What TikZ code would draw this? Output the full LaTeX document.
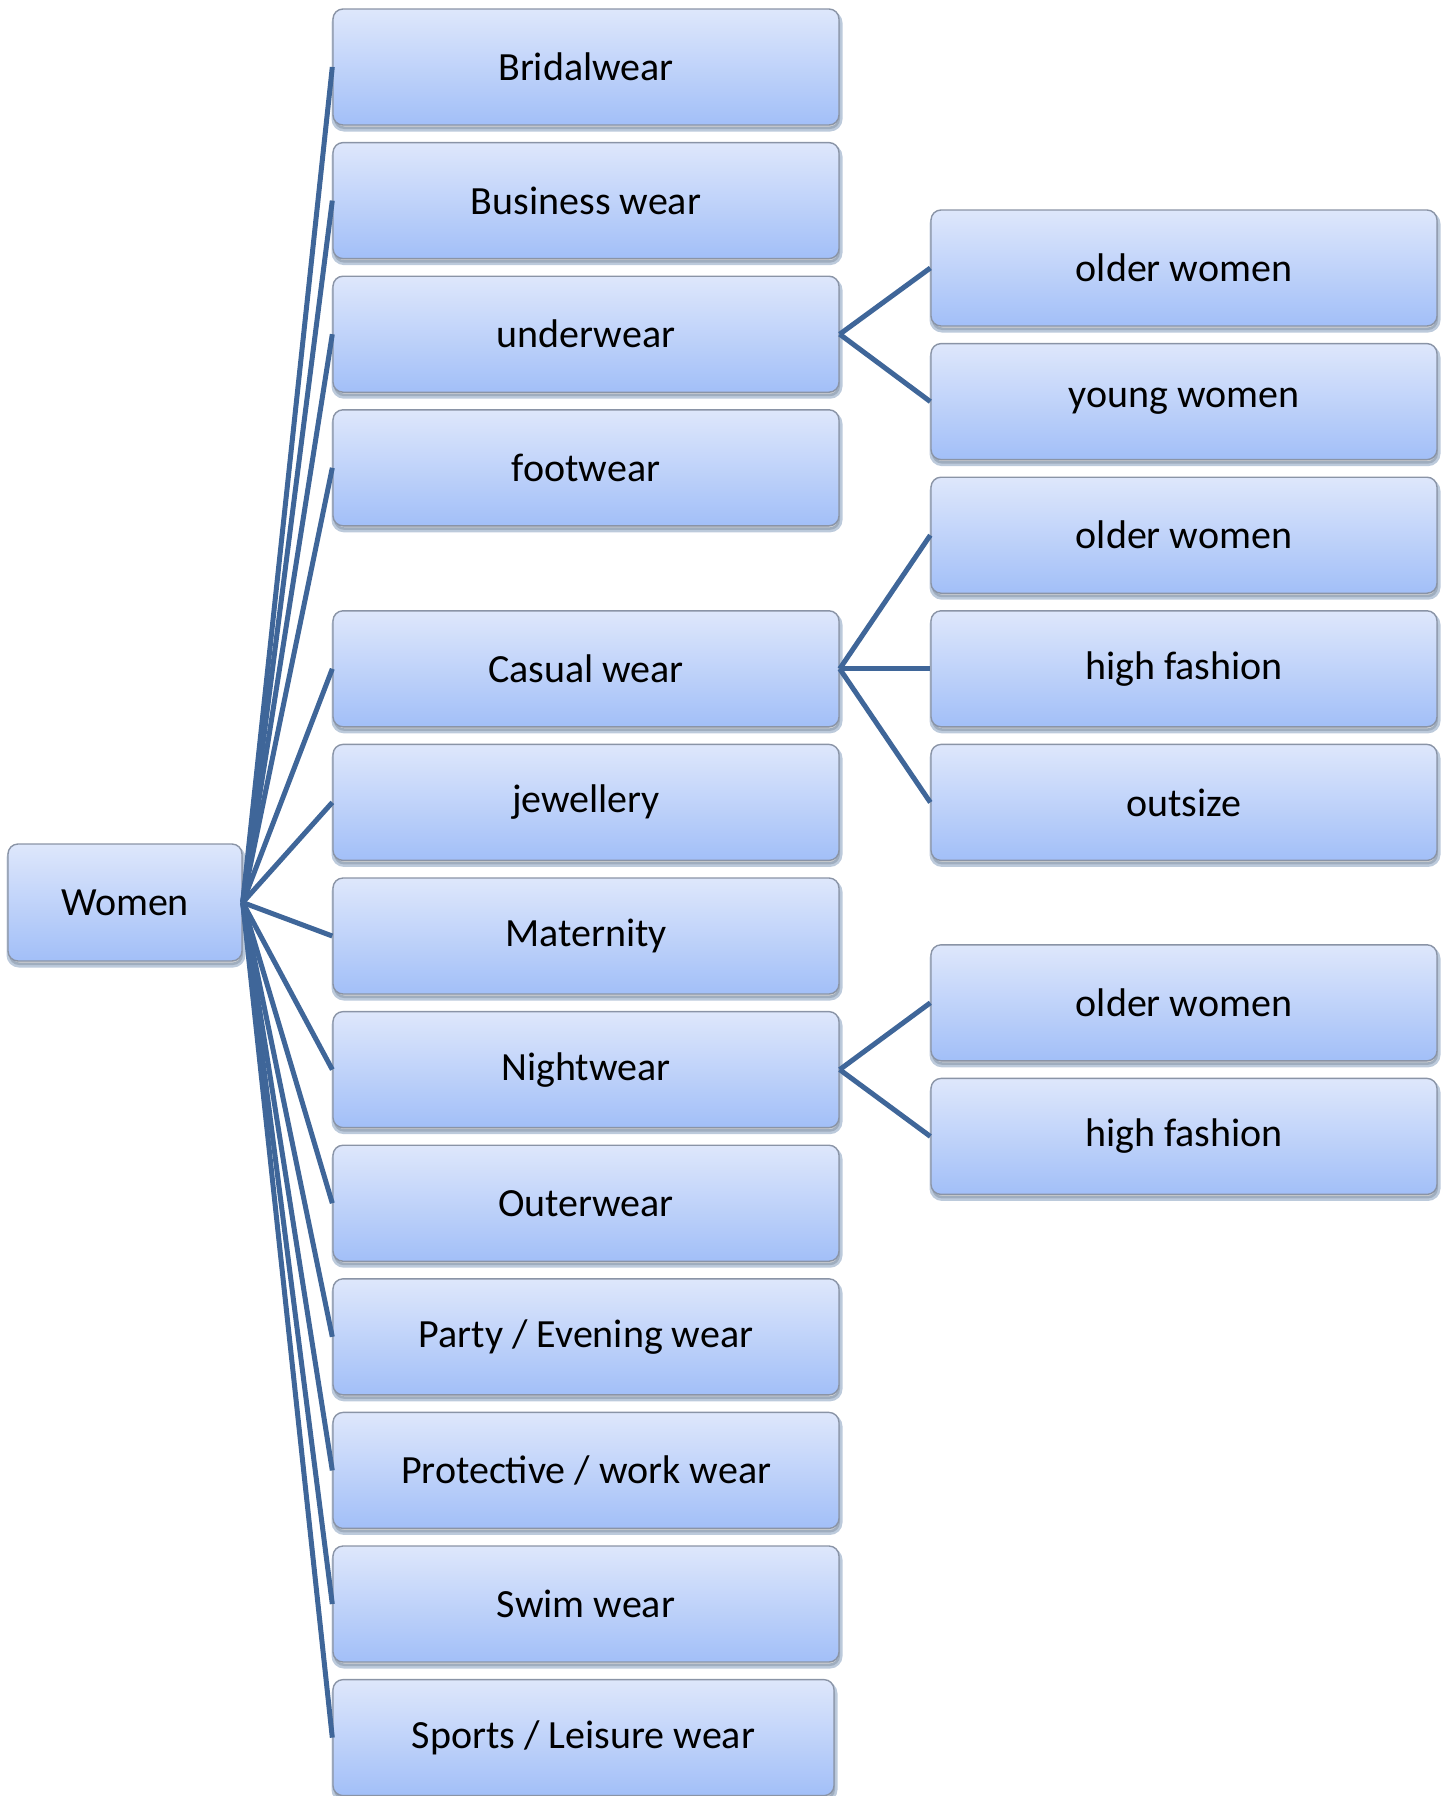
\documentclass[tikz,border=0pt]{standalone}
\usepackage{fontspec}
\setmainfont{Carlito}
\usetikzlibrary{shadows}
\definecolor{boxtop}{HTML}{DEE7FB}
\definecolor{boxbot}{HTML}{A2BFF8}
\definecolor{boxline}{HTML}{8A94A6}
\definecolor{linkblue}{HTML}{3F6699}
\begin{document}
\begin{tikzpicture}[x=1pt,y=-1pt]
    \tikzstyle{every node}=[draw=boxline,line width=1.4pt,rounded corners=10pt,top color=boxtop,bottom color=boxbot,
      drop shadow={shadow xshift=1pt,shadow yshift=-4pt,opacity=0.35},
      minimum width=506pt,minimum height=116pt,inner sep=0pt,font=\fontsize{40}{48}\selectfont];
    \tikzstyle{every path}=[draw=linkblue,line width=5pt];
    \useasboundingbox[draw=none] (0,0) rectangle (1451,1796);
    \node at (125, 902.5) [minimum width=234pt,minimum height=117pt] (women) {Women};

    \node at (586, 67)     (bridal) {Bridalwear};
    \node at (586, 200.6)  (business) {Business wear};
    \node at (586, 334.2)  (under) {underwear};
    \node at (586, 467.8)  (foot) {footwear};
    \node at (586, 668.8)  (casual) {Casual wear};
    \node at (586, 802.4)  (jewel) {jewellery};
    \node at (586, 936)    (maternity) {Maternity};
    \node at (586, 1069.6) (night) {Nightwear};
    \node at (586, 1203.2) (outer) {Outerwear};
    \node at (586, 1336.8) (party) {Party / Evening wear};
    \node at (586, 1470.4) (protect) {Protective / work wear};
    \node at (586, 1604)   (swim) {Swim wear};
    \node at (583.5, 1737.6) [minimum width=501pt] (sports) {Sports / Leisure wear};

    \node at (1184, 268)    (under1) {older women};
    \node at (1184, 401.6)  (under2) {young women};
    \node at (1184, 535.2)  (casual1) {older women};
    \node at (1184, 668.8)  (casual2) {high fashion};
    \node at (1184, 802.4)  (casual3) {outsize};
    \node at (1184, 1002.8) (night1) {older women};
    \node at (1184, 1136.4) (night2) {high fashion};

    \draw (women.east) to (bridal.west);
    \draw (women.east) to (business.west);
    \draw (women.east) to (under.west);
    \draw (women.east) to (foot.west);
    \draw (women.east) to (casual.west);
    \draw (women.east) to (jewel.west);
    \draw (women.east) to (maternity.west);
    \draw (women.east) to (night.west);
    \draw (women.east) to (outer.west);
    \draw (women.east) to (party.west);
    \draw (women.east) to (protect.west);
    \draw (women.east) to (swim.west);
    \draw (women.east) to (sports.west);

    \draw (under.east) to (under1.west);
    \draw (under.east) to (under2.west);
    \draw (casual.east) to (casual1.west);
    \draw (casual.east) to (casual2.west);
    \draw (casual.east) to (casual3.west);
    \draw (night.east) to (night1.west);
    \draw (night.east) to (night2.west);
\end{tikzpicture}
\end{document}
